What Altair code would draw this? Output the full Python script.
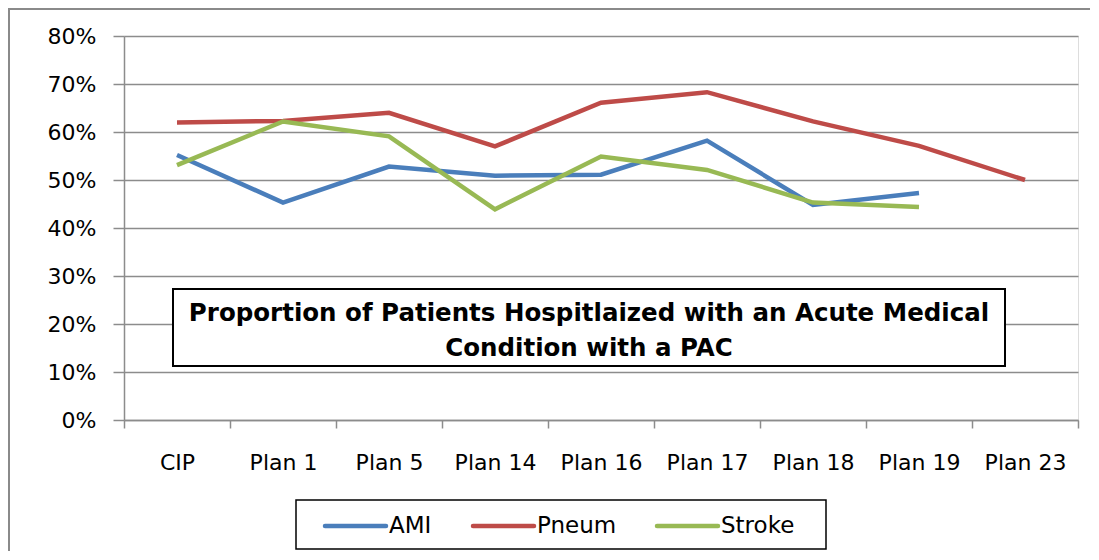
import altair as alt
import pandas as pd

categories = ["CIP", "Plan 1", "Plan 5", "Plan 14", "Plan 16", "Plan 17", "Plan 18", "Plan 19", "Plan 23"]
ami = [0.552, 0.453, 0.528, 0.509, 0.511, 0.582, 0.448, 0.473, None]
pneum = [0.620, 0.623, 0.640, 0.570, 0.661, 0.683, 0.622, 0.571, 0.500]
stroke = [0.531, 0.622, 0.591, 0.439, 0.549, 0.521, 0.453, 0.444, None]
series_names = ["AMI", "Pneum", "Stroke"]
series_colors = ["#4A7EBB", "#BE4B48", "#98B954"]
y_ticks = [0, 0.1, 0.2, 0.3, 0.4, 0.5, 0.6, 0.7, 0.8]
box_title = ["Proportion of Patients Hospitlaized with an Acute Medical", "Condition with a PAC"]

rows = []
for name, vals in zip(series_names, [ami, pneum, stroke]):
    for c, v in zip(categories, vals):
        if v is not None:
            rows.append({"plan": c, "value": v, "series": name})
df = pd.DataFrame(rows)

FONT = "DejaVu Sans"
GRID = "#8c8c8c"

lines = alt.Chart(df).mark_line(strokeWidth=4.5).encode(
    x=alt.X("plan:N", sort=categories,
            scale=alt.Scale(type="band", paddingInner=0, paddingOuter=0),
            axis=alt.Axis(title=None, tickBand="extent", grid=False, tickSize=8,
                          tickColor=GRID, tickWidth=1.5, domainColor=GRID, domainWidth=1.5,
                          labelFont=FONT, labelFontSize=22, labelColor="#000000",
                          labelAngle=0, labelBaseline="middle", labelPadding=34)),
    y=alt.Y("value:Q", scale=alt.Scale(domain=[0, 0.8], nice=False),
            axis=alt.Axis(title=None, values=y_ticks, format=".0%", grid=True,
                          gridColor=GRID, gridWidth=1.5, tickColor=GRID, tickWidth=1.5,
                          tickSize=11, domainColor=GRID, domainWidth=1.5,
                          labelFont=FONT, labelFontSize=22, labelColor="#000000",
                          labelPadding=17)),
    color=alt.Color("series:N", sort=series_names,
                    scale=alt.Scale(domain=series_names, range=series_colors),
                    legend=None),
)

one = pd.DataFrame({"k": [0]})

box = alt.Chart(one).mark_rect(fill="white", stroke="black", strokeWidth=2).encode(
    x=alt.value(49), x2=alt.value(881), y=alt.value(253), y2=alt.value(330)
)
box_text = alt.Chart(one).mark_text(font=FONT, fontSize=24.5, fontWeight="bold",
                                    lineHeight=35, align="center", baseline="middle",
                                    color="black").encode(
    x=alt.value(465), y=alt.value(278), text=alt.value(box_title)
)

# manual legend (layout positions in plot pixels)
legend_line_x = [201, 349, 533]
legend_line_len = 61
legend_y = 490
leg_df = pd.DataFrame({
    "series": series_names,
    "x0": legend_line_x,
    "x1": [v + legend_line_len for v in legend_line_x],
    "xt": [v + legend_line_len + 3 for v in legend_line_x],
})
legend_box = alt.Chart(one).mark_rect(fill="white", stroke="black", strokeWidth=1.5).encode(
    x=alt.value(172), x2=alt.value(702), y=alt.value(464), y2=alt.value(513)
)
color_scale = alt.Scale(domain=series_names, range=series_colors)
legend_lines = alt.Chart(leg_df).mark_rule(strokeWidth=4.5, strokeCap="round").encode(
    x=alt.X("x0:Q", scale=None), x2="x1:Q", y=alt.value(legend_y),
    color=alt.Color("series:N", scale=color_scale, legend=None),
)
legend_text = alt.Chart(leg_df).mark_text(font=FONT, fontSize=23, align="left",
                                          baseline="middle", color="black").encode(
    x=alt.X("xt:Q", scale=None), y=alt.value(legend_y), text="series:N"
)

frame_left = alt.Chart(one).mark_rule(color="#8a8a8a", strokeWidth=2).encode(
    x=alt.value(-115), y=alt.value(-27), y2=alt.value(520)
)
frame_top = alt.Chart(one).mark_rule(color="#8a8a8a", strokeWidth=2).encode(
    x=alt.value(-116), x2=alt.value(970), y=alt.value(-27)
)

chart = alt.layer(lines, box, box_text, legend_box, legend_lines, legend_text,
                  frame_left, frame_top).resolve_scale(color="independent").properties(
    width=954, height=384,
    autosize=alt.AutoSizeParams(type="none"),
    padding={"left": 116, "top": 28, "right": 12, "bottom": 131},
).configure_view(stroke=None).configure(background="white")

chart.save("out.html", embed_options={"renderer": "svg", "actions": False})
